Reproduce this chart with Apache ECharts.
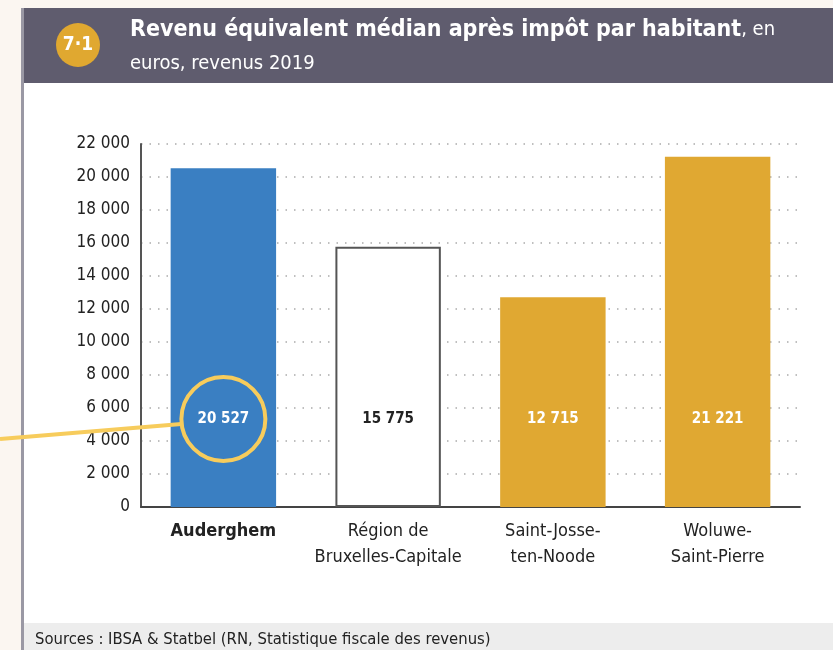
<!DOCTYPE html>
<html>
<head>
<meta charset="utf-8">
<script src="https://cdn.jsdelivr.net/npm/echarts@6/dist/echarts.min.js"></script>
<style>
  html, body { margin: 0; padding: 0; background: #fbf6f1; }
  #main { width: 833px; height: 650px; }
</style>
</head>
<body>
<div id="main"></div>
<script>
var categories = ['Auderghem', 'Région de\nBruxelles-Capitale', 'Saint-Josse-\nten-Noode', 'Woluwe-\nSaint-Pierre'];
var values = [20527, 15775, 12715, 21221];
var barColors = ['#3a7fc2', '#ffffff', '#e0a832', '#e0a832'];
var labelColors = ['#ffffff', '#222222', '#ffffff', '#ffffff'];

var font = '"Liberation Sans Narrow", "DejaVu Sans Condensed", sans-serif';

function fmt(v) {
    return String(v).replace(/\B(?=(\d{3})+(?!\d))/g, ' ');
}

var myChart = echarts.init(document.getElementById('main'));

var option = {
    animation: false,
    backgroundColor: 'transparent',
    grid: { left: 141, right: 33, top: 144, bottom: 143 },
    graphic: [
        { type: 'rect', shape: { x: 22, y: 8, width: 811, height: 642 }, style: { fill: '#ffffff' }, z: -10 },
        { type: 'rect', shape: { x: 22, y: 8, width: 811, height: 75 }, style: { fill: '#5f5c6e' }, z: -5 },
        { type: 'rect', shape: { x: 22, y: 623, width: 811, height: 27 }, style: { fill: '#ededed' }, z: -5 },
        { type: 'rect', shape: { x: 21, y: 8, width: 3, height: 642 }, style: { fill: '#9a98a4' }, z: -4 },
        { type: 'circle', shape: { cx: 78, cy: 45, r: 22 }, style: { fill: '#e0a830' } },
        { type: 'text', x: 78, y: 45, style: { text: '7·1', fill: '#fff', font: 'bold 19px ' + font, align: 'center', verticalAlign: 'middle' } },
        { type: 'text', x: 130, y: 30, style: {
            text: '{b|Revenu équivalent médian après impôt par habitant}{n|, en}',
            verticalAlign: 'middle',
            rich: {
                b: { fill: '#fff', font: 'bold 23px ' + font },
                n: { fill: '#fff', font: '20px ' + font }
            }
        } },
        { type: 'text', x: 130, y: 64, style: { text: 'euros, revenus 2019', fill: '#fff', font: '20px ' + font, verticalAlign: 'middle' } },
        { type: 'text', x: 35, y: 640, style: { text: 'Sources : IBSA & Statbel (RN, Statistique fiscale des revenus)', fill: '#222', font: '16.5px ' + font, verticalAlign: 'middle' } }
    ],
    xAxis: {
        type: 'category',
        data: categories,
        axisLine: { lineStyle: { color: '#444', width: 2 } },
        axisTick: { show: false },
        axisLabel: {
            interval: 0,
            margin: 11,
            lineHeight: 26,
            fontFamily: font,
            fontSize: 18,
            color: '#222',
            formatter: function (v, i) {
                return i === 0 ? '{b|' + v + '}' : v;
            },
            rich: { b: { fontWeight: 'bold', fontFamily: font, fontSize: 18, color: '#222' } }
        }
    },
    yAxis: {
        type: 'value',
        min: 0,
        max: 22000,
        interval: 2000,
        axisLine: { show: true, lineStyle: { color: '#555', width: 2 } },
        axisTick: { show: false },
        splitLine: { lineStyle: { color: '#aaa', type: [1.5, 7], width: 1.5 } },
        axisLabel: {
            margin: 11,
            fontFamily: font,
            fontSize: 17,
            color: '#222',
            formatter: fmt
        }
    },
    series: [{
        type: 'bar',
        barCategoryGap: '36%',
        data: values.map(function (v, i) {
            return {
                value: v,
                itemStyle: {
                    color: barColors[i],
                    borderColor: i === 1 ? '#555' : barColors[i],
                    borderWidth: i === 1 ? 2 : 0
                },
                label: { color: labelColors[i] }
            };
        }),
        label: {
            show: true,
            position: 'insideBottom',
            distance: 80,
            fontFamily: font,
            fontWeight: 'bold',
            fontSize: 15,
            formatter: function (p) { return fmt(p.value); }
        }
    }]
};
myChart.setOption(option);

// highlight circle around the Auderghem label
var c = myChart.convertToPixel({ xAxisIndex: 0, yAxisIndex: 0 }, [0, 0]);
var cx = c[0], cy = c[1] - 88;
var r = 42;
myChart.setOption({
    graphic: option.graphic.concat([
        { type: 'line', shape: { x1: 0, y1: cy + 20, x2: cx - r, y2: cy + 5 }, style: { stroke: '#f7cc5c', lineWidth: 4 }, z: 10 },
        { type: 'circle', shape: { cx: cx, cy: cy, r: r }, style: { fill: 'none', stroke: '#f7cc5c', lineWidth: 4 }, z: 10 }
    ])
});
</script>
</body>
</html>
